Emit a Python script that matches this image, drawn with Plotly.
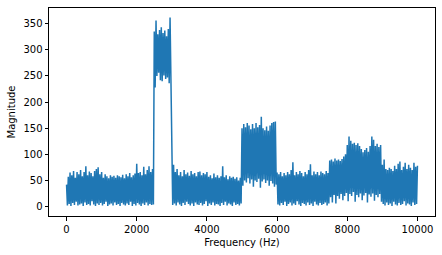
import numpy as np
import plotly.graph_objects as go

# Spectrum envelope (50 Hz bins)
bin_hz = 50
upper_peaks = [
    # 0 - 2450 Hz
    42, 57, 65, 60, 68, 55, 66, 62, 70, 58, 66, 77, 60, 67, 64, 58, 68, 72, 75, 62,
    66, 55, 62, 58, 54, 60, 57, 59, 55, 60, 58, 56, 61, 54, 62, 58, 64, 56, 60, 63,
    82, 64, 66, 60, 76, 62, 70, 77, 66, 72,
    # 2500 - 2950 Hz
    335, 356, 330, 338, 343, 332, 337, 326, 340, 362,
    # 3000 - 4950 Hz
    150, 80, 66, 72, 60, 66, 58, 70, 62, 65, 59, 68, 62, 64, 58, 66, 67, 60, 64, 62,
    66, 57, 60, 54, 63, 56, 60, 55, 58, 77, 56, 60, 52, 58, 55, 57, 53, 56, 50, 55,
    # 5000 - 5950 Hz
    150, 158, 152, 160, 155, 148, 158, 150, 160, 152, 156, 172, 150, 146, 153, 145, 155, 160, 162, 163,
    # 6000 - 7450 Hz
    65, 62, 66, 58, 64, 60, 66, 62, 70, 85, 60, 66, 62, 68, 64, 58, 66, 62, 70, 81,
    60, 67, 62, 66, 60, 67, 64, 62, 68, 64,
    # 7500 - 8950 Hz
    88, 90, 86, 92, 88, 90, 87, 91, 96, 100, 118, 134, 126, 120, 122, 118, 121, 116, 110, 104,
    108, 112, 105, 116, 134, 128, 116, 120, 114, 118,
    # 9000 - 10000 Hz
    80, 90, 72, 70, 74, 72, 68, 78, 72, 82, 86, 70, 76, 84, 72, 80, 74, 70, 84, 76, 78,
]
lower_troughs = [
    # 25 - 2425 Hz
    2, 5, 1, 7, 3, 9, 2, 4, 6, 1, 8, 3, 5, 2, 10, 4, 1, 6, 3, 7,
    2, 5, 9, 1, 4, 6, 2, 8, 3, 5, 1, 7, 4, 2, 6, 3, 9, 1, 5, 2,
    7, 4, 1, 6, 3, 8, 2, 5, 3,
    # 2475 Hz
    4,
    # 2525 - 2975 Hz
    228, 250, 256, 242, 240, 251, 244, 247, 236, 222,
    # 3025 - 4975 Hz
    3, 6, 2, 8, 4, 1, 7, 3, 9, 5, 2, 6, 1, 8, 4, 3, 7, 2, 5, 10,
    1, 6, 3, 8, 2, 5, 4, 1, 7, 3, 9, 2, 6, 4, 1, 8, 3, 5, 2, 6,
    # 5025 - 5975 Hz
    40, 50, 46, 54, 44, 52, 38, 50, 47, 53, 36, 48, 52, 45, 50, 40, 49, 44, 38, 42,
    # 6025 - 7475 Hz
    4, 2, 7, 3, 9, 1, 5, 8, 2, 6, 3, 10, 4, 1, 7, 5, 2, 8, 3, 6,
    1, 9, 4, 2, 7, 3, 5, 8, 2, 6,
    # 7525 - 8975 Hz
    18, 8, 22, 6, 20, 15, 24, 12, 20, 26, 10, 24, 20, 28, 9, 22, 18, 25, 12, 21,
    26, 8, 23, 19, 25, 11, 22, 18, 24, 9,
    # 9025 - 9975 Hz
    5, 2, 8, 3, 6, 1, 9, 4, 2, 7, 3, 5, 10, 2, 6, 4, 1, 8, 3, 5,
]

x_tick_vals = [0, 2000, 4000, 6000, 8000, 10000]
x_tick_text = ["0", "2000", "4000", "6000", "8000", "10000"]
y_tick_vals = [0, 50, 100, 150, 200, 250, 300, 350]
y_tick_text = ["0", "50", "100", "150", "200", "250", "300", "350"]

up_f = np.arange(len(upper_peaks)) * bin_hz
lo_f = np.arange(len(lower_troughs)) * bin_hz + bin_hz / 2

freq = []
mag = []
for i in range(len(upper_peaks)):
    freq.append(up_f[i]); mag.append(upper_peaks[i])
    if i < len(lower_troughs):
        freq.append(lo_f[i]); mag.append(lower_troughs[i])

fig = go.Figure()
fig.add_trace(go.Scatter(x=freq, y=mag, mode="lines",
                         line=dict(color="#1f77b4", width=1.5), showlegend=False))

axis_common = dict(showgrid=False, zeroline=False, showline=True, linecolor="black",
                   linewidth=1, mirror=True, ticks="outside", ticklen=3.5, tickwidth=1,
                   tickcolor="black", tickfont=dict(family="DejaVu Sans", size=10, color="black"),
                   title_font=dict(family="DejaVu Sans", size=10, color="black"))

fig.update_xaxes(range=[-500, 10500], tickmode="array", tickvals=x_tick_vals, ticktext=x_tick_text,
                 title_text="Frequency (Hz)", title_standoff=5, **axis_common)
fig.update_yaxes(range=[-18.1, 380.1], tickmode="array", tickvals=y_tick_vals, ticktext=y_tick_text,
                 title_text="Magnitude", title_standoff=5, **axis_common)

fig.update_layout(width=442, height=255, margin=dict(l=49, r=7, t=8, b=39),
                  plot_bgcolor="white", paper_bgcolor="white",
                  font=dict(family="DejaVu Sans", size=10, color="black"))

fig.write_html("out.html")
